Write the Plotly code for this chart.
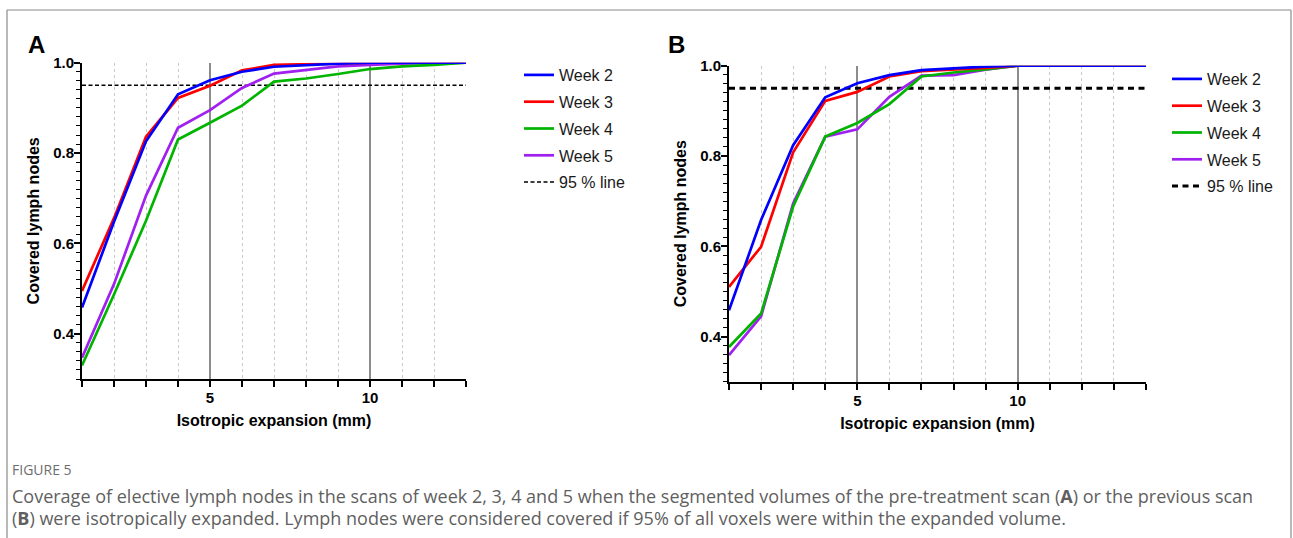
import plotly.graph_objects as go

W, H = 1293, 538

# ---------------- data ----------------
x_A = [1, 2, 3, 4, 5, 6, 7, 8, 9, 10, 11, 12, 13]
A_week2 = [0.458, 0.648, 0.826, 0.930, 0.961, 0.980, 0.991, 0.995, 0.998, 1.0, 1.0, 1.0, 1.0]
A_week3 = [0.495, 0.656, 0.836, 0.922, 0.949, 0.983, 0.995, 0.996, 0.998, 1.0, 1.0, 1.0, 1.0]
A_week4 = [0.330, 0.487, 0.650, 0.830, 0.867, 0.905, 0.958, 0.965, 0.975, 0.986, 0.992, 0.995, 1.0]
A_week5 = [0.347, 0.510, 0.706, 0.856, 0.895, 0.944, 0.976, 0.984, 0.992, 0.995, 0.998, 0.999, 1.0]

x_B = [1, 2, 3, 4, 5, 6, 7, 8, 9, 10, 11, 12, 13, 14]
B_week2 = [0.458, 0.658, 0.824, 0.930, 0.961, 0.979, 0.990, 0.994, 0.998, 1.0, 1.0, 1.0, 1.0, 1.0]
B_week3 = [0.510, 0.599, 0.808, 0.922, 0.942, 0.976, 0.988, 0.991, 0.995, 1.0, 1.0, 1.0, 1.0, 1.0]
B_week4 = [0.377, 0.451, 0.688, 0.843, 0.873, 0.915, 0.976, 0.985, 0.992, 1.0, 1.0, 1.0, 1.0, 1.0]
B_week5 = [0.359, 0.445, 0.695, 0.843, 0.859, 0.931, 0.978, 0.979, 0.991, 1.0, 1.0, 1.0, 1.0, 1.0]

series_names = ["Week 2", "Week 3", "Week 4", "Week 5"]
threshold = 0.95
threshold_name = "95 % line"
x_tick_vals = [5, 10]
x_tick_text = ["5", "10"]
y_title = "Covered lymph nodes"
x_title = "Isotropic expansion (mm)"
caption_head = "FIGURE 5"
caption_1 = ("Coverage of elective lymph nodes in the scans of week 2, 3, 4 and 5 when the segmented "
             "volumes of the pre-treatment scan (<b>A</b>) or the previous scan")
caption_2 = ("(<b>B</b>) were isotropically expanded. Lymph nodes were considered covered if 95% of all "
             "voxels were within the expanded volume.")

colors = ["#0000ff", "#ff0000", "#00b400", "#a020f0"]


def px_x(p):
    return p / W


def px_y(p):
    return 1 - p / H


fig = go.Figure()

panels = [
    dict(x=x_A, ys=[A_week2, A_week3, A_week4, A_week5], xa="x", ya="y", leg="legend",
         dash_w=1.5, dash="4px,2.5px", tag="A"),
    dict(x=x_B, ys=[B_week2, B_week3, B_week4, B_week5], xa="x2", ya="y2", leg="legend2",
         dash_w=3, dash="6px,4.5px", tag="B"),
]

for p in panels:
    xs = p["x"]
    fig.add_trace(go.Scatter(
        x=[xs[0], xs[-1]], y=[threshold, threshold], mode="lines", name=threshold_name,
        line=dict(color="black", width=p["dash_w"], dash=p["dash"]),
        xaxis=p["xa"], yaxis=p["ya"], legend=p["leg"], legendgroup=p["tag"] + "thr",
        legendrank=5, hoverinfo="skip"))
    for i in reversed(range(4)):
        fig.add_trace(go.Scatter(
            x=xs, y=p["ys"][i], mode="lines", name=series_names[i],
            line=dict(color=colors[i], width=2.7),
            xaxis=p["xa"], yaxis=p["ya"], legend=p["leg"],
            legendgroup=p["tag"] + series_names[i], legendrank=i + 1))

tick_font = dict(family="Arial, Liberation Sans", size=15, color="black", weight="bold")
title_font = dict(family="Arial, Liberation Sans", size=16, color="black", weight="bold")


def xaxis_cfg(domain, rng):
    return dict(
        domain=domain, range=rng, tickvals=x_tick_vals, ticktext=x_tick_text,
        ticks="outside", ticklen=6, tickwidth=1.5, tickcolor="black",
        showline=True, linecolor="black", linewidth=2,
        showgrid=True, gridcolor="#8c8c8c", gridwidth=1.5,
        zeroline=False, tickfont=tick_font, ticklabelstandoff=-2,
        automargin=False,
        title=dict(text=x_title, font=title_font, standoff=10),
        minor=dict(tick0=1, dtick=1, ticks="outside", ticklen=6, tickwidth=1.5,
                   tickcolor="black", showgrid=True, gridcolor="#c8c8c8",
                   griddash="dot", gridwidth=1),
        fixedrange=True,
    )


def yaxis_cfg(domain, anchor):
    return dict(
        domain=domain, range=[0.3, 1.0], tick0=0, dtick=0.2, tickformat=".1f",
        ticks="outside", ticklen=6, tickwidth=1.5, tickcolor="black",
        showline=True, linecolor="black", linewidth=2, showgrid=False,
        zeroline=False, tickfont=tick_font, anchor=anchor, ticklabelstandoff=-3,
        automargin=False,
        title=dict(text=y_title, font=title_font, standoff=10),
        minor=dict(tick0=0, dtick=0.02, ticks="outside", ticklen=4, tickwidth=1.2,
                   tickcolor="black", showgrid=False),
        fixedrange=True,
    )


xdomA = [px_x(82), px_x(466)]
ydomA = [px_y(379), px_y(62.7)]
xdomB = [px_x(729), px_x(1146)]
ydomB = [px_y(381.7), px_y(65.7)]

legend_font = dict(family="Arial, Liberation Sans", size=16, color="#1a1a1a")

fig.update_layout(
    width=W, height=H,
    margin=dict(l=0, r=0, t=0, b=0, pad=0, autoexpand=False),
    paper_bgcolor="white", plot_bgcolor="white",
    xaxis=dict(**xaxis_cfg(xdomA, [1, 13]), anchor="y"),
    yaxis=yaxis_cfg(ydomA, "x"),
    xaxis2=dict(**xaxis_cfg(xdomB, [1, 14]), anchor="y2"),
    yaxis2=yaxis_cfg(ydomB, "x2"),
    legend=dict(x=px_x(519), y=px_y(58), xanchor="left", yanchor="top",
                traceorder="grouped", font=legend_font, bgcolor="rgba(0,0,0,0)",
                tracegroupgap=3),
    legend2=dict(x=px_x(1167), y=px_y(62), xanchor="left", yanchor="top",
                 traceorder="grouped", font=legend_font, bgcolor="rgba(0,0,0,0)",
                 tracegroupgap=3),
    showlegend=True,
)

annotations = [
    dict(text="<b>A</b>", x=px_x(36), y=px_y(45), xref="paper", yref="paper",
         showarrow=False, xanchor="center", yanchor="middle",
         font=dict(family="Arial, Liberation Sans", size=24, color="black")),
    dict(text="<b>B</b>", x=px_x(677), y=px_y(45), xref="paper", yref="paper",
         showarrow=False, xanchor="center", yanchor="middle",
         font=dict(family="Arial, Liberation Sans", size=24, color="black")),
    dict(text=caption_head, x=px_x(10), y=px_y(469), xref="paper", yref="paper",
         showarrow=False, xanchor="left", yanchor="middle",
         font=dict(family="Open Sans", size=14, color="#6e6e6e")),
    dict(text=caption_1, x=px_x(10), y=px_y(496), xref="paper", yref="paper",
         showarrow=False, xanchor="left", yanchor="middle",
         font=dict(family="Open Sans", size=18, color="#5f5f5f")),
    dict(text=caption_2, x=px_x(10), y=px_y(518), xref="paper", yref="paper",
         showarrow=False, xanchor="left", yanchor="middle",
         font=dict(family="Open Sans", size=18, color="#5f5f5f")),
]
fig.update_layout(annotations=annotations)

border = "#8a8a8a"
fig.update_layout(shapes=[
    dict(type="line", xref="paper", yref="paper", x0=px_x(7), x1=px_x(7), y0=px_y(10), y1=px_y(545),
         line=dict(color=border, width=1.2)),
    dict(type="line", xref="paper", yref="paper", x0=px_x(7), x1=px_x(1291), y0=px_y(10), y1=px_y(10),
         line=dict(color=border, width=1.2)),
    dict(type="line", xref="paper", yref="paper", x0=px_x(1291), x1=px_x(1291), y0=px_y(10), y1=px_y(545),
         line=dict(color=border, width=1.2)),
])

fig.write_html("out.html", config={"displayModeBar": False})
